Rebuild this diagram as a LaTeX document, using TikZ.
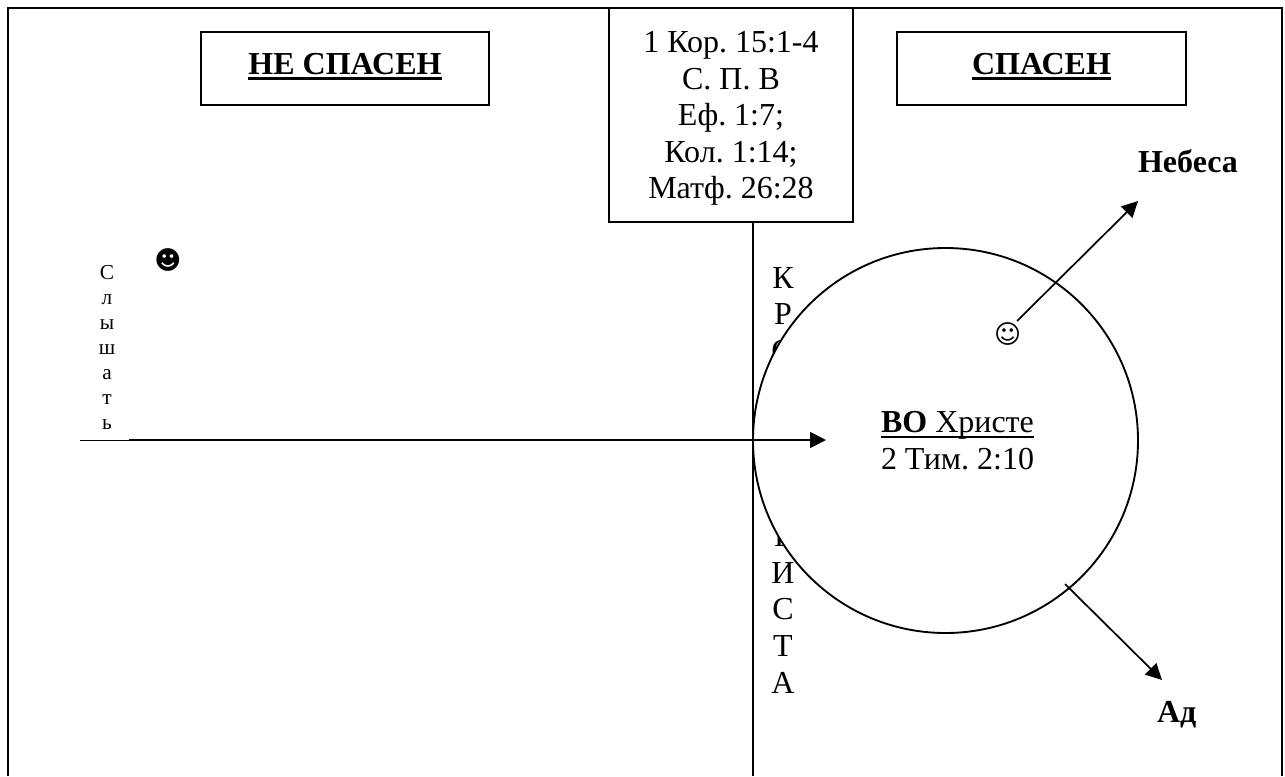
\documentclass[tikz,border=0pt]{standalone}
\usepackage{fontspec}
\setmainfont{Liberation Serif}
\newfontfamily\smileyfont{DejaVu Sans}
\usetikzlibrary{arrows.meta}
\newcommand{\thickul}[1]{\setbox0=\hbox{#1}\rlap{\rule[-4.2pt]{\wd0}{2pt}}\box0}
\newcommand{\liftup}[1]{\raisebox{1.5pt}[\height][\depth]{#1}}
\frenchspacing
\tikzset{
  rulebox/.style={draw,line width=1.5pt,fill=white,inner sep=0pt,outer sep=0pt},
  rule line/.style={line width=1.5pt},
  word/.style={font=\fontsize{24}{27.4}\selectfont,align=center,inner sep=0pt},
  tiny word/.style={font=\fontsize{16}{18.75}\selectfont,align=center,inner sep=0pt},
  smiley/.style={inner sep=0pt,font=\smileyfont\fontsize{19.5}{19.5}\selectfont},
  pointer/.style={line width=1.3pt,-{Triangle[length=12pt,width=12pt]}},
}
\begin{document}
\begin{tikzpicture}[x=0.75pt,y=0.75pt,yscale=-1,xscale=1]
\useasboundingbox (0,0) rectangle (1285,776);

%Outer frame
\coordinate (frameBL) at (8,776);
\coordinate (frameTL) at (8,7.5);
\coordinate (frameTR) at (1282,7.5);
\coordinate (frameBR) at (1282,776);
\draw [rule line] (frameBL) -- (frameTL) -- (frameTR) -- (frameBR);

%Cross line
\coordinate (crossTop) at (753.3,221);
\coordinate (crossEnd) at (753.3,776);
\draw [rule line] (crossTop) -- (crossEnd);

%Boxes
\node [rulebox,word,minimum width=216.5pt,minimum height=54.75pt] (lostBox) at (345,68.5) {\liftup{\textbf{\thickul{НЕ СПАСЕН}}}};
\node [rulebox,word,minimum width=216.5pt,minimum height=54.75pt] (savedBox) at (1041.5,68.5) {\liftup{\textbf{\thickul{СПАСЕН}}}};
\node [rulebox,word,minimum width=182.5pt,minimum height=160.5pt] (verseBox) at (731,114.5) {\rule{0pt}{22pt}1 Кор. 15:1-4\\С. П. В\\Еф. 1:7;\\Кол. 1:14;\\Матф. 26:28};

% Text Node
\node [word] (crossUpper) at (783,314.5) {К\\Р\\О};
% Text Node
\node [word] (crossLower) at (783,609.5) {Р\\И\\С\\Т\\А};

%Shape: Circle
\node [circle,draw,line width=1.4pt,fill=white,inner sep=0pt,outer sep=0pt,minimum size=288.75pt] (christCircle) at (945.5,440.5) {};

% Text Node
\node [word] (christText) at (957.5,440.5) {\thickul{\textbf{ВО} Христе}\\2 Тим. 2:10};
% Text Node
\node [tiny word] (hearText) at (107,347) {С\\л\\ы\\ш\\а\\т\\ь};
% Text Node
\node [smiley] (lostSmile) at (168,260) {☻};
% Text Node
\node [smiley] (savedSmile) at (1007.7,334) {☺};
% Text Node
\node [word] (heavenText) at (1188,161) {\textbf{Небеса}};
% Text Node
\node [word] (hellText) at (1176.7,714.5) {\textbf{Ад}};

%Straight Lines
\coordinate (hearLeft) at (80,440);
\coordinate (hearStart) at (129,440);
\coordinate (hearTip) at (826,440);
\draw [line width=0.7pt] (hearLeft) -- (hearStart);
\draw [pointer] (hearStart) -- (hearTip);

%Straight Lines
\coordinate (heavenStart) at (1017,321);
\coordinate (heavenTip) at (1138,201);
\draw [pointer] (heavenStart) -- (heavenTip);

%Straight Lines
\coordinate (hellStart) at (1065,584);
\coordinate (hellTip) at (1162,680);
\draw [pointer] (hellStart) -- (hellTip);

\end{tikzpicture}
\end{document}
